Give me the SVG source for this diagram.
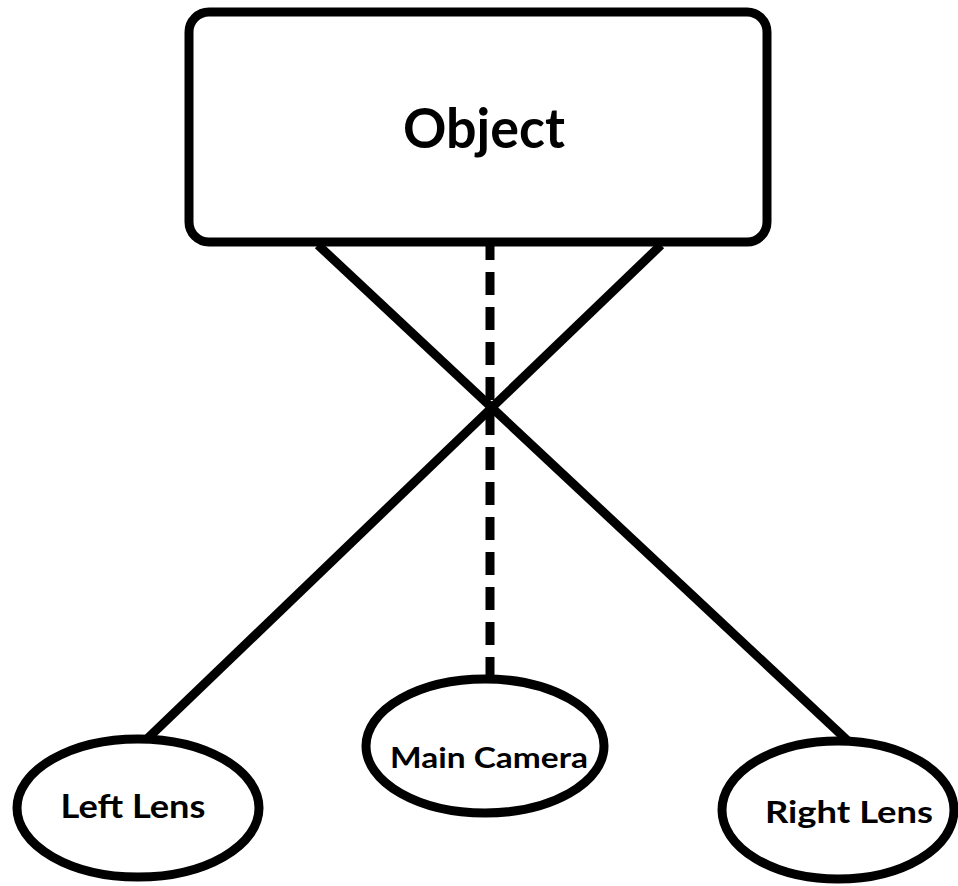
<svg xmlns="http://www.w3.org/2000/svg" width="958" height="886" viewBox="0 0 958 886">
  <style>
    .shape { fill: #ffffff; stroke: #000000; stroke-width: 9; }
    .link { stroke: #000000; stroke-width: 9; fill: none; }
    .dash { stroke-dasharray: 23 12; }
    .label { font-family: Lato, "Open Sans", "Liberation Sans", sans-serif; font-weight: bold; fill: #000000; text-anchor: middle; }
  </style>
  <rect width="958" height="886" fill="#ffffff"/>

  <!-- connectors: crossing sight lines and dashed centre axis -->
  <g id="connectors">
    <line class="link" x1="318" y1="245" x2="848" y2="741"/>
    <line class="link" x1="661" y1="245" x2="147" y2="739"/>
    <line class="link dash" x1="490" y1="237" x2="490" y2="690"/>
  </g>

  <g id="object">
    <rect class="shape" x="189" y="12" width="578" height="230" rx="20" ry="20"/>
    <text class="label" x="484" y="148" font-size="55" textLength="162" lengthAdjust="spacingAndGlyphs">Object</text>
  </g>

  <g id="left-lens">
    <ellipse class="shape" cx="138" cy="808" rx="121" ry="69"/>
    <text class="label" x="133" y="818" font-size="32" textLength="145" lengthAdjust="spacingAndGlyphs">Left Lens</text>
  </g>

  <g id="main-camera">
    <ellipse class="shape" cx="485" cy="746" rx="119" ry="67"/>
    <text class="label" x="489" y="768" font-size="29" textLength="198" lengthAdjust="spacingAndGlyphs">Main Camera</text>
  </g>

  <g id="right-lens">
    <ellipse class="shape" cx="838" cy="810" rx="116" ry="69"/>
    <text class="label" x="849" y="823" font-size="30" textLength="168" lengthAdjust="spacingAndGlyphs">Right Lens</text>
  </g>
</svg>
